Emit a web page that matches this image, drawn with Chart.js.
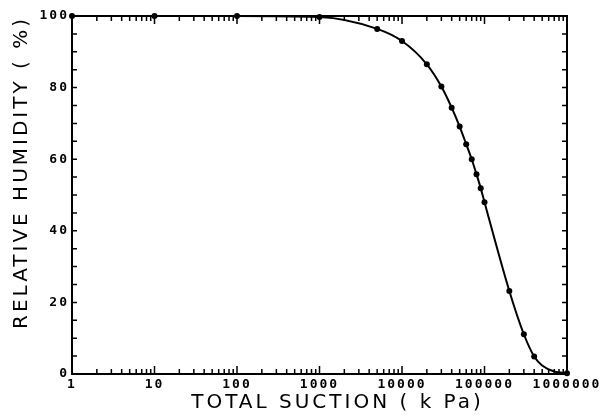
<!DOCTYPE html>
<html>
<head>
<meta charset="utf-8">
<script src="https://cdn.jsdelivr.net/npm/chart.js@4.4.0/dist/chart.umd.min.js"></script>
<style>
  html, body { margin: 0; padding: 0; background: #fff; }
  #wrap { width: 604px; height: 415px; position: relative; }
</style>
</head>
<body>
<div id="wrap"><canvas id="c"></canvas></div>
<script>
// total suction (kPa) and relative humidity (%)
const suction = [1, 10, 100, 1000, 5000, 10000, 20000, 30000, 40000, 50000, 60000, 70000, 80000, 90000, 100000, 200000, 300000, 400000, 500000, 700000, 1000000];
const humidity = [100, 100, 100, 99.7, 96.4, 93.0, 86.5, 80.3, 74.4, 69.1, 64.2, 60.0, 55.8, 51.9, 48.0, 23.2, 11.1, 4.9, 2.4, 0.7, 0.2];
const markers = [3, 3, 3, 3, 3, 3, 3, 3, 3, 3, 3, 3, 3, 3, 3, 3, 3, 3, 0, 0, 3];
const xLabels = [1, 10, 100, 1000, 10000, 100000, 1000000];
const yLabels = [0, 20, 40, 60, 80, 100];

const tickFont = { family: "'DejaVu Sans Mono', monospace", size: 13, weight: 'bold' };
const titleFont = { family: "'DejaVu Sans', sans-serif", size: 20 };

// frame + inward ticks on all four sides
let InwardTicks = {
   id: 'inwardticks',
   beforeDraw: (chart) => {
      // the old plotter font is spaced out, mimic that
      chart.ctx.letterSpacing = '2px';
      Object.values(chart.scales).forEach((scale) => {
         if (scale._wideTitle) return;
         const orig = scale.drawTitle.bind(scale);
         scale.drawTitle = function() {
            const ctx = this.ctx;
            const old = ctx.letterSpacing;
            ctx.save();
            ctx.letterSpacing = '3px';
            // x title sits a bit right of centre in the original
            if (this.isHorizontal()) ctx.translate(18, 0);
            orig();
            ctx.restore();
            ctx.letterSpacing = old;
         };
         scale._wideTitle = true;
      });
   },
   afterDraw: (chart) => {
      const ctx = chart.ctx;
      const a = chart.chartArea;
      const xs = chart.scales.x;
      const ys = chart.scales.y;
      ctx.save();
      ctx.strokeStyle = '#000';
      ctx.lineWidth = 2;
      ctx.strokeRect(a.left, a.top, a.right - a.left, a.bottom - a.top);
      ctx.lineWidth = 1.5;
      ctx.beginPath();
      // x ticks: decades long, 2..9 short
      for (let d = 1; d <= 1000000; d *= 10) {
         for (let m = 1; m <= 9; m++) {
            const v = d * m;
            if (v > 1000000) break;
            const px = xs.getPixelForValue(v);
            const len = m === 1 ? 8 : 5;
            ctx.moveTo(px, a.bottom); ctx.lineTo(px, a.bottom - len);
            ctx.moveTo(px, a.top); ctx.lineTo(px, a.top + len);
         }
      }
      // y ticks every 5
      for (let v = 0; v <= 100; v += 5) {
         const py = ys.getPixelForValue(v);
         ctx.moveTo(a.left, py); ctx.lineTo(a.left + 5, py);
         ctx.moveTo(a.right, py); ctx.lineTo(a.right - 5, py);
      }
      ctx.stroke();
      ctx.restore();
   }
};

new Chart(document.getElementById('c'), {
   type: 'line',
   data: {
      datasets: [{
         data: suction.map((s, i) => ({ x: s, y: humidity[i] })),
         borderColor: '#000',
         backgroundColor: '#000',
         borderWidth: 2,
         pointRadius: markers,
         pointBorderWidth: 0,
         cubicInterpolationMode: 'monotone',
         clip: false
      }]
   },
   plugins: [InwardTicks],
   options: {
      responsive: true,
      maintainAspectRatio: false,
      animation: false,
      events: [],
      layout: { padding: { top: 16, right: 37, left: 10, bottom: 0 } },
      plugins: { legend: { display: false }, tooltip: { enabled: false } },
      scales: {
         x: {
            type: 'logarithmic',
            min: 1,
            max: 1000000,
            afterBuildTicks: (scale) => { scale.ticks = xLabels.map(v => ({ value: v })); },
            afterFit: (scale) => { scale.height = 41; },
            grid: { display: false, drawTicks: false },
            border: { display: false },
            ticks: {
               color: '#000',
               font: tickFont,
               padding: 3,
               maxRotation: 0,
               autoSkip: false,
               callback: (v) => String(v)
            },
            title: {
               display: true,
               text: 'TOTAL SUCTION ( k Pa)',
               color: '#000',
               font: titleFont,
               padding: { top: -1, bottom: 0 }
            }
         },
         y: {
            min: 0,
            max: 100,
            afterBuildTicks: (scale) => { scale.ticks = yLabels.map(v => ({ value: v })); },
            afterFit: (scale) => { scale.width = 62; },
            grid: { display: false, drawTicks: false },
            border: { display: false },
            ticks: { color: '#000', font: tickFont, padding: 3 },
            title: {
               display: true,
               text: 'RELATIVE HUMIDITY ( %)',
               color: '#000',
               font: titleFont,
               align: 'end',
               padding: 0
            }
         }
      }
   }
});
</script>
</body>
</html>
